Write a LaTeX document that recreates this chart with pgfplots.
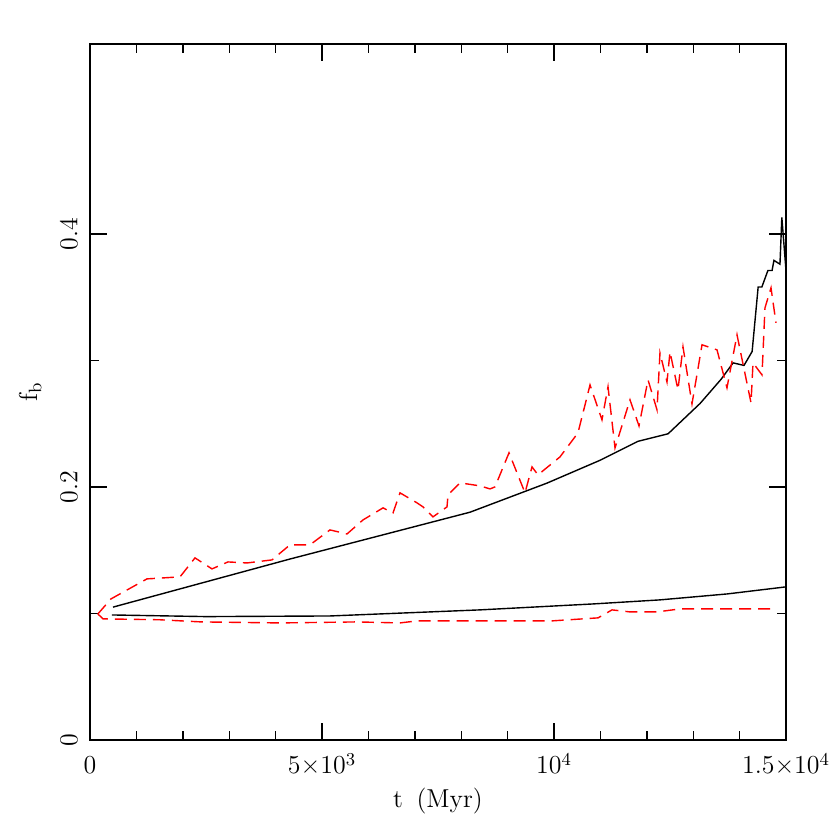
\documentclass[border=0pt]{standalone}
\usepackage{fontspec}
\usepackage{pgfplots}
\pgfplotsset{compat=1.18}
\begin{document}
\begin{tikzpicture}
\begin{axis}[
  name=ax,
  scale only axis,
  width=348bp, height=348bp,
  xmin=0, xmax=15000, ymin=0, ymax=0.55,
  scaled x ticks=false, scaled y ticks=false,
  axis line style={line width=0.75bp},
  tick style={black, line width=0.7bp},
  major tick length=8.5bp, minor tick length=4.5bp,
  tick align=inside,
  xtick={0,5000,10000,15000},
  xticklabels={0,5×10\textsuperscript{3},10\textsuperscript{4},1.5×10\textsuperscript{4}},
  minor x tick num=4,
  ytick={0,0.2,0.4},
  yticklabels={0,0.2,0.4},
  minor y tick num=1,
  every tick label/.append style={font=\fontsize{13}{15}\selectfont},
  xticklabel style={anchor=base, inner sep=0pt},
  xticklabel shift=17bp,
  yticklabel style={rotate=90, anchor=base, inner sep=0pt},
  yticklabel shift=6.3bp,
  xlabel={t\hspace{0.2em} (Myr)},
  ylabel={f\textsubscript{b}},
  label style={font=\fontsize{13}{15}\selectfont},
  xlabel style={at={(axis description cs:0.5,-0.0977)}, anchor=base, inner sep=0pt},
  ylabel style={at={(axis description cs:-0.0761,0.5)}, anchor=base, inner sep=0pt},
  clip=true,
]
% black upper
\addplot[black, line width=0.7bp] coordinates {
(496,0.105) (4310,0.143) (8190,0.180) (9850,0.203) (10990,0.221)
(11810,0.236) (12460,0.242) (13150,0.266) (13600,0.285) (13860,0.298)
(14095,0.296) (14270,0.307) (14400,0.358) (14480,0.358) (14610,0.371)
(14700,0.371) (14740,0.379) (14870,0.376) (14910,0.413) (15000,0.371)
};
% black lower
\addplot[black, line width=0.7bp] coordinates {
(470,0.0988) (2500,0.0975) (5170,0.0980) (8400,0.1028) (10840,0.1075)
(12280,0.1107) (13730,0.1154) (15000,0.121)
};
% red upper
\addplot[red, line width=0.7bp, dash pattern=on 6bp off 3.5bp] coordinates {
(170,0.0996) (453,0.1115) (1228,0.1273) (1940,0.1289) (2263,0.1439)
(2629,0.1352) (2974,0.1407) (3384,0.1399) (3922,0.1423) (4310,0.1542)
(4741,0.1542) (5172,0.1660) (5539,0.1628) (5884,0.1739) (6315,0.1834)
(6530,0.1794) (6681,0.1953) (7047,0.1874) (7177,0.1842) (7392,0.1763)
(7694,0.1842) (7716,0.1937) (7974,0.2032) (8405,0.2008) (8621,0.1984)
(8728,0.2000) (9030,0.2269) (9375,0.1953) (9526,0.2158) (9655,0.2095)
(10129,0.2237) (10517,0.2427) (10776,0.2806) (11034,0.2530) (11164,0.2791)
(11315,0.2308) (11638,0.2688) (11832,0.2482) (12026,0.2846) (12220,0.2609)
(12284,0.3059) (12435,0.2830) (12500,0.3067) (12672,0.2767) (12780,0.3107)
(12974,0.2656) (13190,0.3123) (13513,0.3083) (13728,0.2783) (13944,0.3202)
(14246,0.2664) (14289,0.2980) (14483,0.2885) (14547,0.3415) (14677,0.3573)
(14784,0.3296)
};
% red lower
\addplot[red, line width=0.7bp, dash pattern=on 6bp off 3.5bp] coordinates {
(170,0.0996) (280,0.0957) (1500,0.0950) (2400,0.0933) (4100,0.0925)
(5750,0.0933) (6680,0.0925) (7050,0.0941) (9950,0.0941) (10950,0.0965)
(11250,0.1028) (11640,0.1012) (12220,0.1012) (12720,0.1036) (14720,0.1036)
};
\end{axis}
\pgfresetboundingbox
\path ([shift={(-45bp,-45bp)}]ax.south west) rectangle ([shift={(22bp,22bp)}]ax.north east);
\end{tikzpicture}
\end{document}
